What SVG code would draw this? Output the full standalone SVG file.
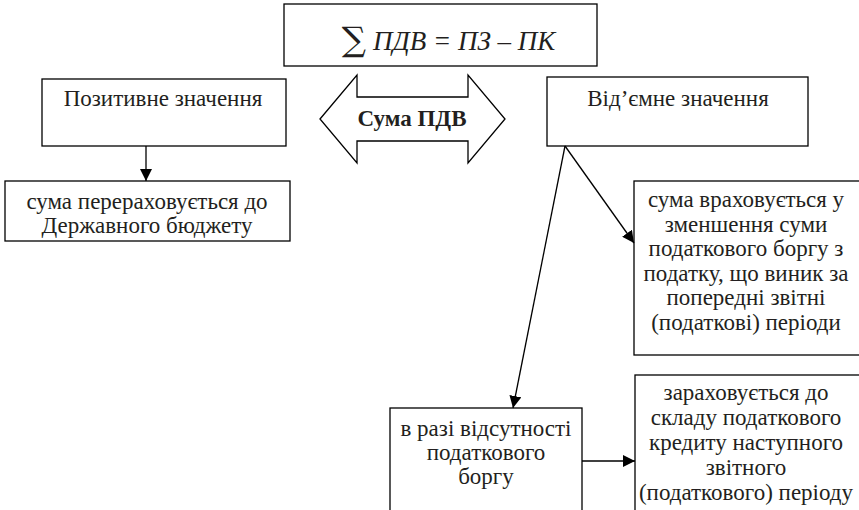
<svg xmlns="http://www.w3.org/2000/svg" width="859" height="510" viewBox="0 0 859 510">
<defs>
<style>
.box{fill:#fff;stroke:#000;stroke-width:1.3}
.t{font-family:'Liberation Serif',serif;font-size:23px;fill:#231f20;text-anchor:middle}
.f{font-family:'Liberation Serif',serif;font-size:27px;font-style:italic;fill:#231f20}
.s{font-family:'DejaVu Serif',serif;font-size:34px;fill:#231f20;text-anchor:middle}
.ln{stroke:#000;stroke-width:1.3;fill:none}
</style>
<marker id="ah" viewBox="0 0 10 10" refX="10" refY="5" markerWidth="12" markerHeight="12" markerUnits="userSpaceOnUse" orient="auto">
<path d="M0,0 L10,5 L0,10 z" fill="#000"/>
</marker>
</defs>
<rect width="859" height="510" fill="#fff"/>
<g id="formula">
<rect class="box" x="284" y="4" width="313" height="62"/>
<text class="s" x="354" y="51">∑</text>
<text class="f" x="373" y="50">ПДВ = ПЗ – ПК</text>
</g>
<g id="positive">
<rect class="box" x="42" y="79" width="244" height="67"/>
<text class="t" x="163" y="106">Позитивне значення</text>
</g>
<g id="budget">
<rect class="box" x="5" y="181" width="285" height="60"/>
<text class="t" x="147" y="209">сума перераховується до</text>
<text class="t" x="147" y="233">Державного бюджету</text>
</g>
<g id="sum">
<path class="box" d="M320,119 L357,75 L357,97 L468,97 L468,75 L505,119 L468,163 L468,141 L357,141 L357,163 Z"/>
<text class="t" x="412" y="126" font-weight="bold">Сума ПДВ</text>
</g>
<g id="negative">
<rect class="box" x="547" y="77" width="261" height="69"/>
<text class="t" x="678" y="106">Від’ємне значення</text>
</g>
<g id="reduce">
<rect class="box" x="634" y="181" width="230" height="174"/>
<text class="t" x="746" y="207">сума враховується у</text>
<text class="t" x="746" y="231.5">зменшення суми</text>
<text class="t" x="746" y="256">податкового боргу з</text>
<text class="t" x="746" y="280.5">податку, що виник за</text>
<text class="t" x="746" y="305">попередні звітні</text>
<text class="t" x="746" y="329.5">(податкові) періоди</text>
</g>
<g id="nodebt">
<rect class="box" x="390" y="408" width="192" height="110"/>
<text class="t" x="486" y="436">в разі відсутності</text>
<text class="t" x="486" y="460">податкового</text>
<text class="t" x="486" y="484">боргу</text>
</g>
<g id="credit">
<rect class="box" x="635" y="375" width="230" height="145"/>
<text class="t" x="746" y="400">зараховується до</text>
<text class="t" x="746" y="425">складу податкового</text>
<text class="t" x="746" y="450">кредиту наступного</text>
<text class="t" x="746" y="475">звітного</text>
<text class="t" x="746" y="500">(податкового) періоду</text>
</g>
<g id="connectors">
<line class="ln" x1="146" y1="146" x2="146" y2="181" marker-end="url(#ah)"/>
<line class="ln" x1="565" y1="146" x2="634" y2="243" marker-end="url(#ah)"/>
<line class="ln" x1="565" y1="146" x2="513" y2="408" marker-end="url(#ah)"/>
<line class="ln" x1="582" y1="461" x2="635" y2="461" marker-end="url(#ah)"/>
</g>
</svg>
